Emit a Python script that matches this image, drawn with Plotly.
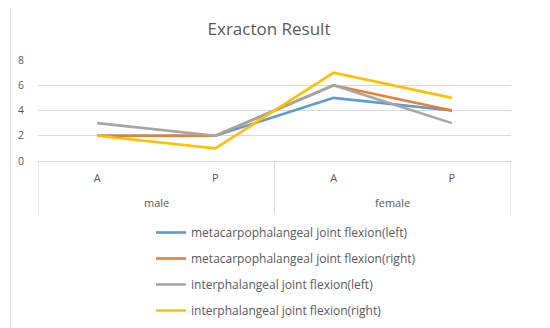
import plotly.graph_objects as go

groups = ["male", "male", "female", "female"]
subcats = ["A", "P", "A", "P"]
series_names = [
    "metacarpophalangeal joint flexion(left)",
    "metacarpophalangeal joint flexion(right)",
    "interphalangeal joint flexion(left)",
    "interphalangeal joint flexion(right)",
]
mcp_left = [2, 2, 5, 4]
mcp_right = [2, 2, 6, 4]
ip_left = [3, 2, 6, 3]
ip_right = [2, 1, 7, 5]
colors = ["#5B9BD5", "#ED7D31", "#A5A5A5", "#FFC000"]

# page body has an 8px margin; compensate so the picture lands where intended
OFF = 8
W, H = 550, 328
PL, PR, PT, PB = 38, 511, 60, 161  # plot area in screen pixels
l = PL - OFF
t = PT - OFF
r = W - (PR - OFF)
b = H - (PB - OFF)
pw = PR - PL
ph = PB - PT

def px(xs):
    return (xs - PL) / pw

def py(ys):
    return (PB - ys) / ph

x_idx = list(range(len(subcats)))

fig = go.Figure()
for i, (name, vals) in enumerate(zip(series_names, [mcp_left, mcp_right, ip_left, ip_right])):
    fig.add_trace(go.Scatter(
        x=x_idx, y=vals, mode="lines", name=name,
        line=dict(color=colors[i], width=2.6),
        legendgroup=f"g{i}",
    ))

# group labels and dividers derived from the group list
group_names = []
for g in groups:
    if g not in group_names:
        group_names.append(g)
annotations = []
shapes = []
div_color = "#D9D9D9"
for g in group_names:
    idx = [i for i, gg in enumerate(groups) if gg == g]
    annotations.append(dict(
        x=(min(idx) + max(idx)) / 2, xref="x", y=py(202), yref="paper",
        text=g, showarrow=False, xanchor="center", yanchor="middle",
        font=dict(size=11, color="#595959"),
    ))
boundaries = [-0.5] + [i + 0.5 for i in range(len(groups) - 1) if groups[i] != groups[i + 1]] + [len(groups) - 0.5]
for bx in boundaries:
    shapes.append(dict(type="line", xref="x", yref="paper", x0=bx, x1=bx, y0=py(161), y1=py(214),
                       line=dict(color=div_color, width=1)))

# chart frame (top and left edges visible)
shapes.append(dict(type="line", xref="paper", yref="paper",
                   x0=px(10), x1=px(541), y0=py(4.5), y1=py(4.5),
                   line=dict(color=div_color, width=1)))
shapes.append(dict(type="line", xref="paper", yref="paper",
                   x0=px(10.5), x1=px(10.5), y0=py(4), y1=py(340),
                   line=dict(color=div_color, width=1)))

fig.update_layout(
    width=W, height=H,
    margin=dict(l=l, r=r, t=t, b=b, autoexpand=False),
    paper_bgcolor="white", plot_bgcolor="white",
    font=dict(family="Open Sans, Liberation Sans, sans-serif", color="#595959", size=10),
    title=dict(text="Exracton Result", xref="container", x=(269 - OFF) / W, xanchor="center",
               yref="container", y=1 - (29 - OFF) / H, yanchor="middle",
               font=dict(size=17, color="#595959")),
    xaxis=dict(
        range=[-0.5, len(subcats) - 0.5], tickmode="array", tickvals=x_idx, ticktext=subcats,
        showgrid=False, showline=False, zeroline=False, ticks="",
        tickfont=dict(size=11, color="#595959"), ticklabelstandoff=9,
    ),
    yaxis=dict(
        range=[0, 8], dtick=2, showgrid=True, gridcolor=div_color, gridwidth=1,
        zeroline=True, zerolinecolor=div_color, zerolinewidth=1,
        showline=False, ticks="", tickfont=dict(size=10.5, color="#595959"),
        ticklabelstandoff=13,
    ),
    showlegend=True,
    legend=dict(
        orientation="v", x=px(151), xanchor="left",
        y=py(218), yanchor="top",
        font=dict(size=12, color="#595959"), tracegroupgap=7,
        itemwidth=30, bgcolor="rgba(0,0,0,0)",
    ),
    annotations=annotations,
    shapes=shapes,
)

fig.write_html("out.html")
